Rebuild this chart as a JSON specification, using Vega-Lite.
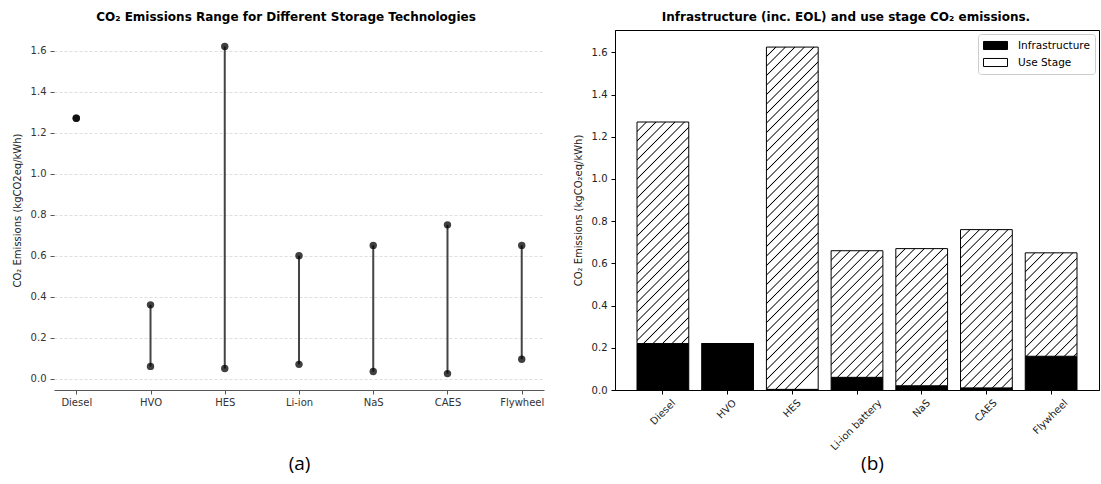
{
  "$schema": "https://vega.github.io/schema/vega-lite/v6.json",
  "background": "white",
  "padding": {"left": 12, "top": 10, "right": 0, "bottom": 0},
  "spacing": 28,
  "params": [
    {
      "name": "hatch",
      "value": [
        {"offset": 0, "color": "#fff"},
        {"offset": 0.022, "color": "#fff"}, {"offset": 0.025, "color": "#000"}, {"offset": 0.028, "color": "#fff"},
        {"offset": 0.047, "color": "#fff"}, {"offset": 0.05, "color": "#000"}, {"offset": 0.053, "color": "#fff"},
        {"offset": 0.072, "color": "#fff"}, {"offset": 0.075, "color": "#000"}, {"offset": 0.078, "color": "#fff"},
        {"offset": 0.097, "color": "#fff"}, {"offset": 0.1, "color": "#000"}, {"offset": 0.103, "color": "#fff"},
        {"offset": 0.122, "color": "#fff"}, {"offset": 0.125, "color": "#000"}, {"offset": 0.128, "color": "#fff"},
        {"offset": 0.147, "color": "#fff"}, {"offset": 0.15, "color": "#000"}, {"offset": 0.153, "color": "#fff"},
        {"offset": 0.172, "color": "#fff"}, {"offset": 0.175, "color": "#000"}, {"offset": 0.178, "color": "#fff"},
        {"offset": 0.197, "color": "#fff"}, {"offset": 0.2, "color": "#000"}, {"offset": 0.203, "color": "#fff"},
        {"offset": 0.222, "color": "#fff"}, {"offset": 0.225, "color": "#000"}, {"offset": 0.228, "color": "#fff"},
        {"offset": 0.247, "color": "#fff"}, {"offset": 0.25, "color": "#000"}, {"offset": 0.253, "color": "#fff"},
        {"offset": 0.272, "color": "#fff"}, {"offset": 0.275, "color": "#000"}, {"offset": 0.278, "color": "#fff"},
        {"offset": 0.297, "color": "#fff"}, {"offset": 0.3, "color": "#000"}, {"offset": 0.303, "color": "#fff"},
        {"offset": 0.322, "color": "#fff"}, {"offset": 0.325, "color": "#000"}, {"offset": 0.328, "color": "#fff"},
        {"offset": 0.347, "color": "#fff"}, {"offset": 0.35, "color": "#000"}, {"offset": 0.353, "color": "#fff"},
        {"offset": 0.372, "color": "#fff"}, {"offset": 0.375, "color": "#000"}, {"offset": 0.378, "color": "#fff"},
        {"offset": 0.397, "color": "#fff"}, {"offset": 0.4, "color": "#000"}, {"offset": 0.403, "color": "#fff"},
        {"offset": 0.422, "color": "#fff"}, {"offset": 0.425, "color": "#000"}, {"offset": 0.428, "color": "#fff"},
        {"offset": 0.447, "color": "#fff"}, {"offset": 0.45, "color": "#000"}, {"offset": 0.453, "color": "#fff"},
        {"offset": 0.472, "color": "#fff"}, {"offset": 0.475, "color": "#000"}, {"offset": 0.478, "color": "#fff"},
        {"offset": 0.497, "color": "#fff"}, {"offset": 0.5, "color": "#000"}, {"offset": 0.503, "color": "#fff"},
        {"offset": 0.522, "color": "#fff"}, {"offset": 0.525, "color": "#000"}, {"offset": 0.528, "color": "#fff"},
        {"offset": 0.547, "color": "#fff"}, {"offset": 0.55, "color": "#000"}, {"offset": 0.553, "color": "#fff"},
        {"offset": 0.572, "color": "#fff"}, {"offset": 0.575, "color": "#000"}, {"offset": 0.578, "color": "#fff"},
        {"offset": 0.597, "color": "#fff"}, {"offset": 0.6, "color": "#000"}, {"offset": 0.603, "color": "#fff"},
        {"offset": 0.622, "color": "#fff"}, {"offset": 0.625, "color": "#000"}, {"offset": 0.628, "color": "#fff"},
        {"offset": 0.647, "color": "#fff"}, {"offset": 0.65, "color": "#000"}, {"offset": 0.653, "color": "#fff"},
        {"offset": 0.672, "color": "#fff"}, {"offset": 0.675, "color": "#000"}, {"offset": 0.678, "color": "#fff"},
        {"offset": 0.697, "color": "#fff"}, {"offset": 0.7, "color": "#000"}, {"offset": 0.703, "color": "#fff"},
        {"offset": 0.722, "color": "#fff"}, {"offset": 0.725, "color": "#000"}, {"offset": 0.728, "color": "#fff"},
        {"offset": 0.747, "color": "#fff"}, {"offset": 0.75, "color": "#000"}, {"offset": 0.753, "color": "#fff"},
        {"offset": 0.772, "color": "#fff"}, {"offset": 0.775, "color": "#000"}, {"offset": 0.778, "color": "#fff"},
        {"offset": 0.797, "color": "#fff"}, {"offset": 0.8, "color": "#000"}, {"offset": 0.803, "color": "#fff"},
        {"offset": 0.822, "color": "#fff"}, {"offset": 0.825, "color": "#000"}, {"offset": 0.828, "color": "#fff"},
        {"offset": 0.847, "color": "#fff"}, {"offset": 0.85, "color": "#000"}, {"offset": 0.853, "color": "#fff"},
        {"offset": 0.872, "color": "#fff"}, {"offset": 0.875, "color": "#000"}, {"offset": 0.878, "color": "#fff"},
        {"offset": 0.897, "color": "#fff"}, {"offset": 0.9, "color": "#000"}, {"offset": 0.903, "color": "#fff"},
        {"offset": 0.922, "color": "#fff"}, {"offset": 0.925, "color": "#000"}, {"offset": 0.928, "color": "#fff"},
        {"offset": 0.947, "color": "#fff"}, {"offset": 0.95, "color": "#000"}, {"offset": 0.953, "color": "#fff"},
        {"offset": 0.972, "color": "#fff"}, {"offset": 0.975, "color": "#000"}, {"offset": 0.978, "color": "#fff"},
        {"offset": 1, "color": "#fff"}
      ]
    }
  ],
  "config": {
    "font": "DejaVu Sans",
    "title": {"fontSize": 12, "fontWeight": "bold", "color": "#000", "offset": 6, "font": "DejaVu Sans"},
    "axis": {"labelFont": "DejaVu Sans", "titleFont": "DejaVu Sans", "labelFontSize": 10, "titleFontSize": 10, "titleFontWeight": "normal", "titleColor": "#222"}
  },
  "resolve": {"scale": {"x": "independent", "y": "independent", "fill": "independent"}, "legend": {"fill": "independent"}},
  "hconcat": [
    {
      "width": 490,
      "height": 360,
      "title": {"text": "CO₂ Emissions Range for Different Storage Technologies", "dx": -13},
      "view": {"stroke": null},
      "data": {
        "values": [
          {"tech": "Diesel", "lo": 1.27, "hi": 1.27},
          {"tech": "HVO", "lo": 0.06, "hi": 0.36},
          {"tech": "HES", "lo": 0.05, "hi": 1.62},
          {"tech": "Li-ion", "lo": 0.07, "hi": 0.6},
          {"tech": "NaS", "lo": 0.035, "hi": 0.65},
          {"tech": "CAES", "lo": 0.025, "hi": 0.75},
          {"tech": "Flywheel", "lo": 0.095, "hi": 0.65}
        ]
      },
      "encoding": {
        "x": {
          "field": "tech", "type": "nominal", "sort": null,
          "scale": {"type": "point", "padding": 0.3},
          "axis": {
            "title": "(a)", "titleFont": "Open Sans", "titleFontSize": 19, "titleColor": "#000", "titlePadding": 47,
            "labelAngle": 0, "labelColor": "#333", "labelPadding": 3, "tickSize": 4, "tickColor": "#555",
            "domainColor": "#555", "domainWidth": 1.2, "grid": false
          }
        }
      },
      "layer": [
        {
          "mark": {"type": "rule", "color": "#444", "strokeWidth": 2},
          "encoding": {
            "y": {
              "field": "lo", "type": "quantitative",
              "scale": {"domain": [-0.055, 1.7], "nice": false, "zero": false},
              "axis": {
                "title": "CO₂ Emissions (kgCO2eq/kWh)", "values": [0, 0.2, 0.4, 0.6, 0.8, 1.0, 1.2, 1.4, 1.6], "format": ".1f",
                "domain": false, "tickSize": 4, "tickColor": "#555", "labelColor": "#333", "labelPadding": 4, "titlePadding": 8,
                "grid": true, "gridColor": "#d5d5d5", "gridDash": [3, 2], "gridWidth": 0.8
              }
            },
            "y2": {"field": "hi"}
          }
        },
        {
          "transform": [{"fold": ["lo", "hi"], "as": ["end", "val"]}],
          "mark": {"type": "point", "filled": true, "color": "#000", "opacity": 0.75, "size": 55},
          "encoding": {
            "y": {"field": "val", "type": "quantitative", "axis": {"title": "CO₂ Emissions (kgCO2eq/kWh)"}}
          }
        }
      ]
    },
    {
      "width": 484,
      "height": 360,
      "title": {"text": "Infrastructure (inc. EOL) and use stage CO₂ emissions.", "dx": -11},
      "view": {"stroke": "#000", "strokeWidth": 1},
      "data": {
        "values": [
          {"tech": "Diesel", "stage": "Infrastructure", "value": 0.22},
          {"tech": "Diesel", "stage": "Use Stage", "value": 1.05},
          {"tech": "HVO", "stage": "Infrastructure", "value": 0.22},
          {"tech": "HVO", "stage": "Use Stage", "value": 0},
          {"tech": "HES", "stage": "Infrastructure", "value": 0.003},
          {"tech": "HES", "stage": "Use Stage", "value": 1.622},
          {"tech": "Li-ion battery", "stage": "Infrastructure", "value": 0.06},
          {"tech": "Li-ion battery", "stage": "Use Stage", "value": 0.6},
          {"tech": "NaS", "stage": "Infrastructure", "value": 0.02},
          {"tech": "NaS", "stage": "Use Stage", "value": 0.65},
          {"tech": "CAES", "stage": "Infrastructure", "value": 0.01},
          {"tech": "CAES", "stage": "Use Stage", "value": 0.75},
          {"tech": "Flywheel", "stage": "Infrastructure", "value": 0.16},
          {"tech": "Flywheel", "stage": "Use Stage", "value": 0.49}
        ]
      },
      "mark": {"type": "bar", "stroke": "#000", "strokeWidth": 1},
      "encoding": {
        "x": {
          "field": "tech", "type": "nominal", "sort": null,
          "scale": {"paddingInner": 0.2, "paddingOuter": 0.34},
          "axis": {
            "title": "(b)", "titleFont": "Open Sans", "titleFontSize": 19, "titleColor": "#000", "titlePadding": 3, "titleX": 257,
            "labelAngle": -45, "labelAlign": "right", "labelBaseline": "middle", "labelPadding": 7, "labelColor": "#222",
            "labelOffset": {
              "condition": [
                {"test": "datum.value === 'Diesel'", "value": 11},
                {"test": "datum.value === 'Li-ion battery'", "value": 23},
                {"test": "datum.value === 'Flywheel'", "value": 15},
                {"test": "datum.value === 'CAES'", "value": 9}
              ],
              "value": 7
            },
            "tickSize": 4, "tickColor": "#000", "domainColor": "#000", "grid": false
          }
        },
        "y": {
          "field": "value", "type": "quantitative", "stack": "zero",
          "scale": {"domain": [0, 1.706], "nice": false},
          "axis": {
            "title": "CO₂ Emissions (kgCO₂eq/kWh)", "values": [0, 0.2, 0.4, 0.6, 0.8, 1.0, 1.2, 1.4, 1.6], "format": ".1f",
            "grid": false, "domainColor": "#000", "tickColor": "#000", "tickSize": 4, "labelColor": "#222", "labelPadding": 4, "titlePadding": 8
          }
        },
        "order": {"field": "stage", "type": "nominal", "sort": "ascending"},
        "fill": {
          "field": "stage", "type": "nominal",
          "scale": {"domain": ["Infrastructure", "Use Stage"], "range": ["#000000", "#ffffff"]},
          "legend": {
            "title": null, "orient": "top-right", "offset": 4, "padding": 5,
            "strokeColor": "#cccccc", "fillColor": "#ffffff", "cornerRadius": 3,
            "symbolType": "M-1,-0.67H3V0.67H-1Z", "symbolSize": 144, "symbolStrokeColor": "#000", "symbolStrokeWidth": 1,
            "labelFontSize": 10.5, "labelColor": "#000", "labelOffset": 22, "rowPadding": 4
          },
          "condition": {
            "test": "datum.stage === 'Use Stage'",
            "value": {"expr": "{gradient: 'linear', x1: 0, y1: 0, x2: 380*51.76/(2679.1+pow(datum.value*211.02,2)), y2: 380*datum.value*211.02/(2679.1+pow(datum.value*211.02,2)), stops: hatch}"}
          }
        }
      }
    }
  ]
}
